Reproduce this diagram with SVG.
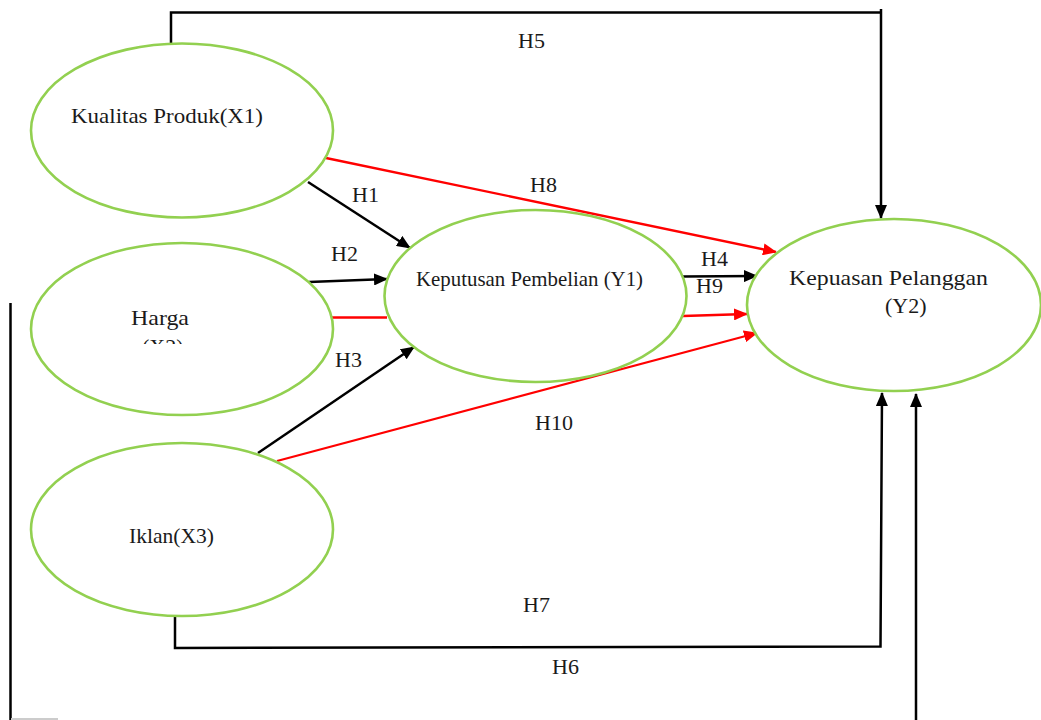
<svg xmlns="http://www.w3.org/2000/svg" width="1041" height="720" viewBox="0 0 1041 720">
<style>
.node{fill:#ffffff;stroke:#92d050;stroke-width:2.6}
.lbl{font-family:"Liberation Serif","Times New Roman",serif;font-size:22px;fill:#1a1a1a}
.blk{fill:none;stroke:#000000;stroke-width:2.5}
.red{fill:none;stroke:#ff0000;stroke-width:2.3}
</style>
<defs>
<marker id="ab" viewBox="0 0 14 12" refX="13" refY="6" markerWidth="14" markerHeight="12" markerUnits="userSpaceOnUse" orient="auto">
<path d="M0,0 L14,6 L0,12 z" fill="#000000"/>
</marker>
<marker id="ar" viewBox="0 0 14 12" refX="13" refY="6" markerWidth="14" markerHeight="12" markerUnits="userSpaceOnUse" orient="auto">
<path d="M0,0 L14,6 L0,12 z" fill="#ff0000"/>
</marker>
<clipPath id="hclip"><rect x="0" y="0" width="400" height="344"/></clipPath>
</defs>
<rect x="0" y="0" width="1041" height="720" fill="#ffffff"/>

<g id="connectors">
<path class="blk" d="M171,44 L171,12.5 L881,12.5"/>
<path class="blk" d="M881,9 L881,218" marker-end="url(#ab)"/>
<line class="blk" x1="308" y1="182" x2="410" y2="248" marker-end="url(#ab)"/>
<line class="red" x1="326" y1="158" x2="776" y2="252" marker-end="url(#ar)"/>
<line class="blk" x1="309" y1="282" x2="387" y2="279" marker-end="url(#ab)"/>
<line class="red" x1="331" y1="317.5" x2="387" y2="317.5"/>
<line class="blk" x1="258" y1="453" x2="414" y2="347" marker-end="url(#ab)"/>
<line class="red" x1="277" y1="461" x2="757" y2="333" marker-end="url(#ar)"/>
<line class="blk" x1="683" y1="276.5" x2="757" y2="276" marker-end="url(#ab)"/>
<line class="red" x1="683" y1="316" x2="747" y2="314" marker-end="url(#ar)"/>
<path class="blk" d="M175,616 L175,648 L880.5,646.5 L882,393" marker-end="url(#ab)"/>
<line class="blk" x1="916" y1="720" x2="916" y2="394" marker-end="url(#ab)"/>
<line class="blk" x1="10.5" y1="303" x2="10.5" y2="720"/>
<line x1="11" y1="719" x2="58" y2="719" stroke="#cccccc" stroke-width="2"/>
<text class="lbl" x="518" y="48">H5</text>
<text class="lbl" x="530" y="192">H8</text>
<text class="lbl" x="352" y="202">H1</text>
<text class="lbl" x="331" y="261">H2</text>
<text class="lbl" x="335" y="367">H3</text>
<text class="lbl" x="701" y="266">H4</text>
<text class="lbl" x="696" y="293">H9</text>
<text class="lbl" x="535" y="430">H10</text>
<text class="lbl" x="523" y="612">H7</text>
<text class="lbl" x="552" y="674">H6</text>
</g>

<g id="x1">
<ellipse class="node" cx="182" cy="130.5" rx="151" ry="87"/>
<text class="lbl" x="71" y="123" textLength="192" lengthAdjust="spacingAndGlyphs">Kualitas Produk(X1)</text>
</g>

<g id="x2">
<ellipse class="node" cx="182" cy="329" rx="151" ry="86"/>
<text class="lbl" x="131" y="325" textLength="58" lengthAdjust="spacingAndGlyphs">Harga</text>
<text class="lbl" x="142" y="354" clip-path="url(#hclip)">(X2)</text>
</g>

<g id="x3">
<ellipse class="node" cx="182" cy="529.5" rx="151" ry="86.5"/>
<text class="lbl" x="129" y="543" textLength="85" lengthAdjust="spacingAndGlyphs">Iklan(X3)</text>
</g>

<g id="y1">
<ellipse class="node" cx="535.5" cy="296" rx="151" ry="86"/>
<text class="lbl" x="416" y="286" textLength="227" lengthAdjust="spacingAndGlyphs">Keputusan Pembelian (Y1)</text>
</g>

<g id="y2">
<ellipse class="node" cx="894" cy="305" rx="147" ry="86"/>
<text class="lbl" x="789" y="285" textLength="199" lengthAdjust="spacingAndGlyphs">Kepuasan Pelanggan</text>
<text class="lbl" x="885" y="313">(Y2)</text>
</g>
</svg>
